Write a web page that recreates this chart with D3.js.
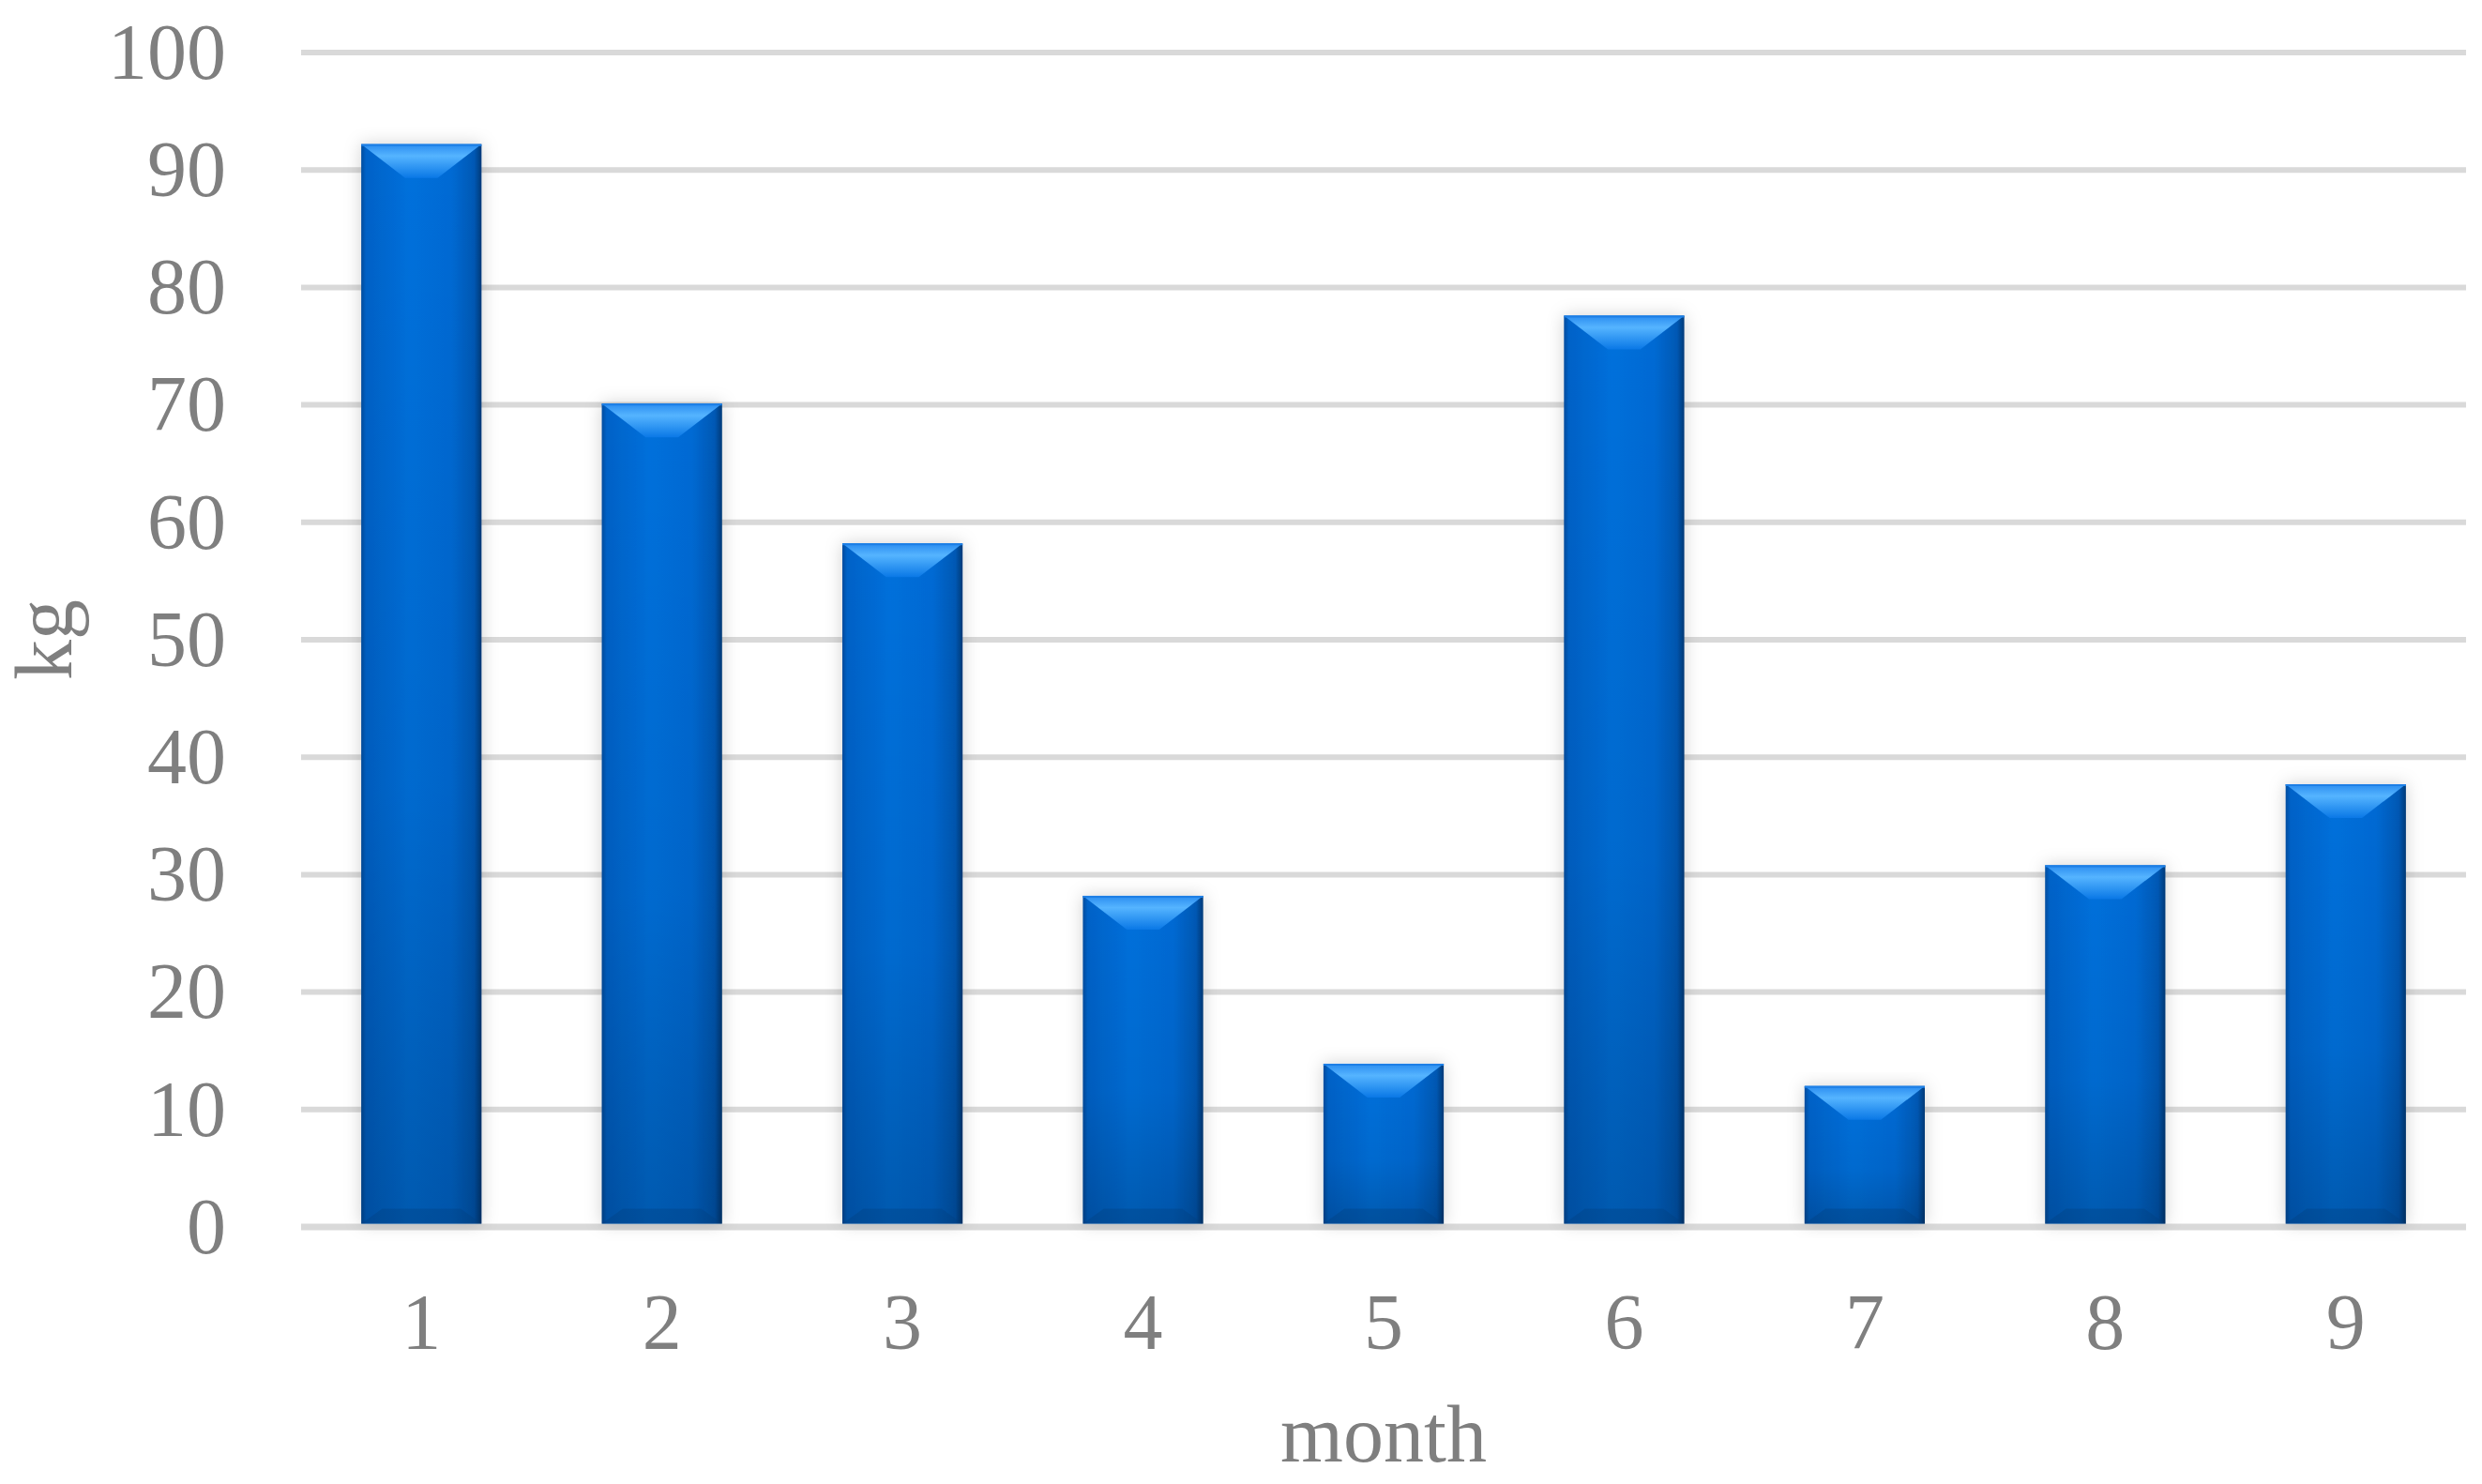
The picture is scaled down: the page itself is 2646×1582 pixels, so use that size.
<!DOCTYPE html>
<html><head><meta charset="utf-8">
<script src="https://cdn.jsdelivr.net/npm/d3@7"></script>
<style>
html,body{margin:0;padding:0;background:#fff;}
svg{display:block;}
text{font-family:"Palatino Linotype","Book Antiqua",Palatino,"Liberation Serif",serif;fill:#7f7f7f;}
</style></head>
<body>
<script>
const categories = ["1","2","3","4","5","6","7","8","9"];
const values = [92.2, 70.1, 58.2, 28.2, 13.9, 77.6, 12.0, 30.8, 37.7];
const yTicks = [0,10,20,30,40,50,60,70,80,90,100];
const xTitle = "month";
const yTitle = "kg";

const W = 2646, H = 1582;
const m = {left:321, right:17, top:56, bottom:274};
const svg = d3.select("body").append("svg").attr("width",W).attr("height",H);
const defs = svg.append("defs");

const x = d3.scaleBand().domain(categories).range([m.left, W-m.right]).paddingInner(0.5).paddingOuter(0.25);
const y = d3.scaleLinear().domain([0,100]).range([H-m.bottom, m.top]);

// gradients
const hg = defs.append("linearGradient").attr("id","hg").attr("x1","0").attr("x2","1").attr("y1","0").attr("y2","0");
[["0%","#004c9e"],["4%","#0062c8"],["40%","#0070dc"],["75%","#006ad4"],["94%","#0058b4"],["100%","#003a78"]]
 .forEach(s=>hg.append("stop").attr("offset",s[0]).attr("stop-color",s[1]));
const vg = defs.append("linearGradient").attr("id","vg").attr("x1","0").attr("x2","0").attr("y1","0").attr("y2","1");
[["0%","#000",0],["60%","#000",0.06],["100%","#000",0.2]]
 .forEach(s=>vg.append("stop").attr("offset",s[0]).attr("stop-color",s[1]).attr("stop-opacity",s[2]));
const tg = defs.append("linearGradient").attr("id","tg").attr("x1","0").attr("x2","0").attr("y1","0").attr("y2","1");
[["0%","#2a8cf0"],["35%","#55b4ff"],["100%","#0a78e6"]]
 .forEach(s=>tg.append("stop").attr("offset",s[0]).attr("stop-color",s[1]));
const f = defs.append("filter").attr("id","sh").attr("x","-30%").attr("y","-10%").attr("width","160%").attr("height","120%");
f.append("feDropShadow").attr("dx",0).attr("dy",0).attr("stdDeviation",9).attr("flood-color","#000").attr("flood-opacity",0.18);

// gridlines
svg.append("g").selectAll("line").data(yTicks).join("line")
  .attr("x1",m.left).attr("x2",W-m.right)
  .attr("y1",d=>y(d)).attr("y2",d=>y(d))
  .attr("stroke","#d9d9d9").attr("stroke-width",d=>d===0?7:6);

// y tick labels
svg.append("g").selectAll("text").data(yTicks).join("text")
  .attr("x",241).attr("y",d=>y(d)).attr("dy","0.33em")
  .attr("text-anchor","end").attr("font-size",84).text(d=>d);

// x tick labels
svg.append("g").selectAll("text").data(categories).join("text")
  .attr("x",d=>x(d)+x.bandwidth()/2).attr("y",1438)
  .attr("text-anchor","middle").attr("font-size",84).text(d=>d);

// bars
const bars = svg.append("g").selectAll("g").data(values).join("g")
  .attr("transform",(d,i)=>`translate(${x(categories[i])},0)`);
const bw = x.bandwidth();
const base = y(0) - 3.5;
bars.append("rect").attr("x",0).attr("width",bw)
  .attr("y",d=>y(d)).attr("height",d=>base-y(d))
  .attr("fill","url(#hg)").attr("filter","url(#sh)");
bars.append("rect").attr("x",0).attr("width",bw)
  .attr("y",d=>y(d)).attr("height",d=>base-y(d))
  .attr("fill","url(#vg)");
const bev = 36;
bars.append("path")
  .attr("d",d=>{const t=y(d);const h=Math.min(bev,(base-t)/2);return `M0,${t}L${bw},${t}L${bw-h*1.3},${t+h}L${h*1.3},${t+h}Z`;})
  .attr("fill","url(#tg)");
bars.append("line").attr("x1",0).attr("x2",bw).attr("y1",d=>y(d)+1).attr("y2",d=>y(d)+1)
  .attr("stroke","#1d7fe6").attr("stroke-width",2);
bars.append("path")
  .attr("d",d=>{const h=16;return `M0,${base}L${bw},${base}L${bw-h*1.4},${base-h}L${h*1.4},${base-h}Z`;})
  .attr("fill","#00407f").attr("opacity",0.35);

// axis titles
svg.append("text").attr("x",(m.left+W-m.right)/2).attr("y",1558)
  .attr("text-anchor","middle").attr("font-size",86).text(xTitle);
svg.append("text").attr("transform",`translate(76,${(y(0)+y(100))/2}) rotate(-90)`)
  .attr("text-anchor","middle").attr("font-size",86).text(yTitle);
</script>
</body></html>
